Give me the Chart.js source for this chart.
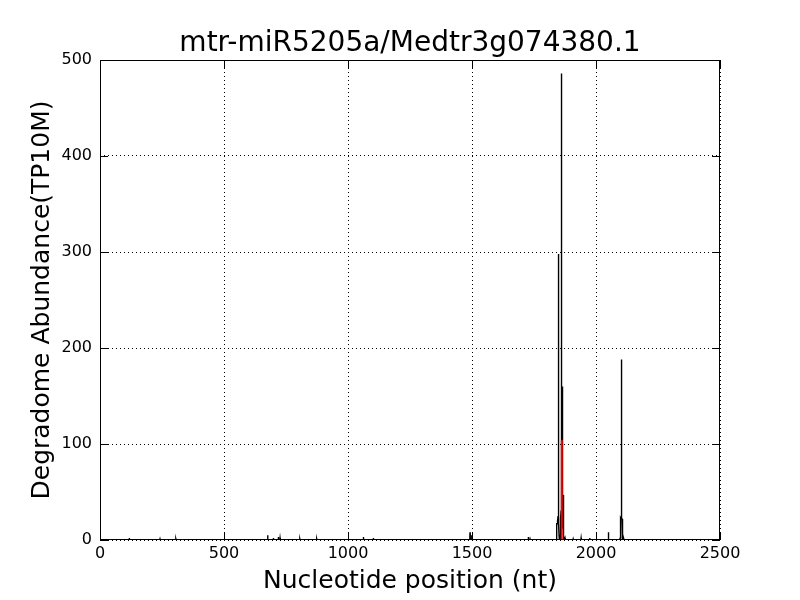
<!DOCTYPE html>
<html lang="en">

<head>
    <meta charset="UTF-8">
    <title>mtr-miR5205a/Medtr3g074380.1</title>
    <script src="https://cdn.jsdelivr.net/npm/chart.js"></script>
    <style>
        body { margin: 0; background: #fff; }
    </style>
</head>

<body>
    <canvas id="degradome" width="800" height="600"></canvas>
    <script>
        // Degradome reads: nucleotide position -> abundance (TP10M)
        const positions = [
            118, 242, 306, 390, 632, 676, 699, 719, 726, 806, 874, 1062, 1102, 1122,
            1337, 1492, 1499, 1727, 1734,
            1841, 1842, 1843, 1844, 1845, 1846, 1847, 1848, 1849, 1850, 1851, 1852,
            1856, 1857, 1858, 1859, 1860, 1861, 1862, 1863, 1864, 1865, 1866, 1867, 1868, 1869, 1870,
            1872, 1875, 1908, 1940, 1950, 1975, 1990, 2050,
            2097, 2098, 2099, 2100, 2101, 2102, 2103, 2104, 2105, 2106, 2107, 2112, 2184
        ];
        const abundance = [
            2, 1, 1, 0.5, 1, 5, 2, 3, 2, 1, 1, 3, 2, 1,
            1, 8, 5, 3, 1,
            3, 17, 17, 18, 17, 20, 25, 298, 26, 18, 5, 3,
            4, 10, 22, 30, 486, 40, 104, 160, 20, 12, 30, 47, 47, 20, 5,
            3, 2, 1, 2, 1, 2, 1, 8,
            2, 22, 22, 23, 22, 188, 55, 22, 22, 20, 3, 1, 1
        ];
        const transcriptLength = 2200;

        // miRNA cleavage site (red)
        const cleavageSite = 1862;
        const cleavageAbundance = 104;

        const xTicks = [0, 500, 1000, 1500, 2000, 2500];
        const yTicks = [0, 100, 200, 300, 400, 500];

        // build the line: drop back to zero next to isolated reads
        const known = new Set(positions);
        let linePoints = [{ x: 1, y: 0 }];
        positions.forEach((p, i) => {
            if (!known.has(p - 1)) linePoints.push({ x: p - 1, y: 0 });
            linePoints.push({ x: p, y: abundance[i] });
            if (!known.has(p + 1)) linePoints.push({ x: p + 1, y: 0 });
        });
        linePoints.push({ x: transcriptLength, y: 0 });

        const font = 'DejaVu Sans';

        // spines and inward ticks on all four sides, like the classic plot style
        const frame = {
            id: 'frame',
            afterDatasetsDraw(chart) {
                const { ctx, chartArea: a, scales } = chart;
                ctx.save();
                ctx.strokeStyle = '#000';
                ctx.lineWidth = 1;
                ctx.beginPath();
                xTicks.forEach(v => {
                    const px = Math.round(scales.x.getPixelForValue(v)) + 0.5;
                    ctx.moveTo(px, a.bottom); ctx.lineTo(px, a.bottom - 8);
                    ctx.moveTo(px, a.top); ctx.lineTo(px, a.top + 8);
                });
                yTicks.forEach(v => {
                    const py = Math.round(scales.y.getPixelForValue(v)) + 0.5;
                    ctx.moveTo(a.left, py); ctx.lineTo(a.left + 8, py);
                    ctx.moveTo(a.right, py); ctx.lineTo(a.right - 8, py);
                });
                ctx.stroke();
                ctx.strokeRect(a.left + 0.5, a.top + 0.5, a.right - a.left - 1, a.bottom - a.top - 1);
                ctx.restore();
            }
        };

        const ctx = document.getElementById('degradome').getContext('2d');
        const chart = new Chart(ctx, {
            type: 'scatter',
            data: {
                datasets: [{
                    label: 'Degradome',
                    data: linePoints,
                    showLine: true,
                    borderColor: '#000',
                    borderWidth: 1.4,
                    pointRadius: 0,
                    tension: 0,
                    order: 2
                }, {
                    label: 'Cleavage site',
                    data: [{ x: cleavageSite, y: 0 }, { x: cleavageSite, y: cleavageAbundance }],
                    showLine: true,
                    borderColor: '#ff0000',
                    borderWidth: 2,
                    pointRadius: 0,
                    order: 1
                }]
            },
            options: {
                responsive: false,
                animation: false,
                layout: { padding: { left: 20, right: 0, top: 0, bottom: 0 } },
                scales: {
                    x: {
                        type: 'linear',
                        min: 0,
                        max: 2500,
                        afterFit: s => { s.height = 60; },
                        afterBuildTicks: s => { s.ticks = xTicks.map(v => ({ value: v })); },
                        ticks: {
                            color: '#000', font: { family: font, size: 16 }, padding: 4,
                            maxRotation: 0, autoSkip: false, callback: v => String(v)
                        },
                        grid: { color: '#000', lineWidth: 1, drawTicks: false },
                        border: { display: false, dash: [1, 3] },
                        title: {
                            display: true,
                            text: 'Nucleotide position (nt)',
                            color: '#000',
                            font: { family: font, size: 25 },
                            padding: { top: 0, bottom: 4 }
                        }
                    },
                    y: {
                        min: 0,
                        max: 500,
                        afterFit: s => { s.width = 80; },
                        afterBuildTicks: s => { s.ticks = yTicks.map(v => ({ value: v })); },
                        ticks: {
                            color: '#000', font: { family: font, size: 16 }, padding: 8,
                            autoSkip: false, callback: v => String(v)
                        },
                        grid: { color: '#000', lineWidth: 1, drawTicks: false },
                        border: { display: false, dash: [1, 3] },
                        title: {
                            display: true,
                            text: 'Degradome Abundance(TP10M)',
                            color: '#000',
                            font: { family: font, size: 25 },
                            padding: { top: 7, bottom: 0 }
                        }
                    },
                    // empty right margin so the plot ends at the same place as the reference
                    yRight: {
                        position: 'right',
                        min: 0,
                        max: 500,
                        afterFit: s => { s.width = 80; },
                        ticks: { display: false },
                        grid: { display: false, drawTicks: false },
                        border: { display: false }
                    }
                },
                plugins: {
                    legend: { display: false },
                    tooltip: { enabled: false },
                    title: {
                        display: true,
                        text: 'mtr-miR5205a/Medtr3g074380.1',
                        color: '#000',
                        font: { family: font, size: 28, weight: 'normal', lineHeight: 1.1 },
                        padding: { top: 28, bottom: 1.2 }
                    }
                }
            },
            plugins: [frame]
        });
    </script>
</body>

</html>
